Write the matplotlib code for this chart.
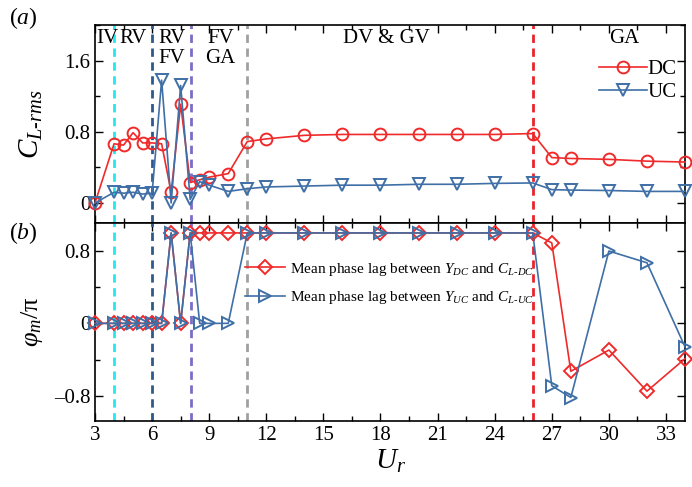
import numpy as np
import matplotlib.pyplot as plt
from matplotlib.ticker import MultipleLocator

plt.rcParams['font.family'] = ['Liberation Serif', 'DejaVu Serif']
plt.rcParams['mathtext.fontset'] = 'custom'
plt.rcParams['mathtext.rm'] = 'Liberation Serif'
plt.rcParams['mathtext.it'] = 'Liberation Serif:italic'
plt.rcParams['mathtext.bf'] = 'Liberation Serif:bold'

# --- data ---
ur = [3, 4, 4.5, 5, 5.5, 6, 6.5, 7, 7.5, 8, 8.5, 9, 10, 11, 12, 14, 16, 18,
      20, 22, 24, 26, 27, 28, 30, 32, 34]
dc_rms = [0.0, 0.665, 0.65, 0.79, 0.675, 0.675, 0.665, 0.12, 1.11, 0.23, 0.26,
          0.29, 0.33, 0.69, 0.72, 0.76, 0.77, 0.77, 0.77, 0.77, 0.77, 0.78,
          0.51, 0.50, 0.49, 0.47, 0.46]
uc_rms = [0.0, 0.12, 0.11, 0.12, 0.10, 0.11, 1.38, 0.0, 1.32, 0.04, 0.24,
          0.20, 0.13, 0.16, 0.18, 0.19, 0.20, 0.20, 0.21, 0.21, 0.22, 0.225,
          0.15, 0.145, 0.14, 0.13, 0.13]
dc_phase = [0, 0, 0, 0, 0, 0, 0, 1, 0, 1, 1, 1, 1, 1, 1, 1, 1, 1,
            1, 1, 1, 1, 0.89, -0.53, -0.295, -0.75, -0.39]
uc_phase = [0, 0, 0, 0, 0, 0, 0, 1, 0, 1, 0, 0, 0, 1, 1, 1, 1, 1,
            1, 1, 1, 1, -0.69, -0.82, 0.80, 0.67, -0.26]

regime_x = [4, 6, 8.05, 11, 26]
regime_c = ['#22E8F0', '#2C5A8C', '#7A6CC8', '#A0A0A0', '#E8242B']
regime_txt = [(3.05, 'IV', 'left'), (4.3, 'RV', 'left'), (7.05, 'RV\nFV', 'center'),
              (9.6, 'FV\nGA', 'center'), (18.3, 'DV & GV', 'center'), (30.8, 'GA', 'center')]

RED = '#F02A2A'
BLUE = '#3F6FA6'

fig = plt.figure(figsize=(6.92, 4.87), dpi=100)
ax1 = fig.add_axes([0.1373, 0.5421, 0.8526, 0.4066])
ax2 = fig.add_axes([0.1373, 0.1355, 0.8526, 0.4066])

kw = dict(lw=1.2, mfc='none', mew=1.4, clip_on=False, zorder=4)
ax1.plot(ur, dc_rms, marker='o', ms=8.5, color=RED, label='DC', **kw)
ax1.plot(ur, uc_rms, marker='v', ms=9, color=BLUE, label='UC', **kw)

ax2.plot(ur, dc_phase, marker='D', ms=7.5, color=RED,
         label=r'Mean phase lag between $Y_{DC}$ and $C_{L\text{-}DC}$', **kw)
ax2.plot(ur, uc_phase, marker='>', ms=9, color=BLUE,
         label=r'Mean phase lag between $Y_{UC}$ and $C_{L\text{-}UC}$', **kw)

for ax in (ax1, ax2):
    for x, c in zip(regime_x, regime_c):
        ax.axvline(x, color=c, lw=2, ls=(0, (3, 2)), zorder=2)
    ax.set_xlim(3, 34)
    ax.xaxis.set_major_locator(MultipleLocator(3))
    ax.xaxis.set_minor_locator(MultipleLocator(1.5))
    ax.yaxis.set_major_locator(MultipleLocator(0.8))
    ax.yaxis.set_minor_locator(MultipleLocator(0.4))
    ax.tick_params(which='both', direction='in', top=True, right=True,
                   labelsize=15, width=1)
    ax.tick_params(which='major', length=6)
    ax.tick_params(which='minor', length=3.5)
    for s in ax.spines.values():
        s.set_linewidth(1.2)

ax1.set_ylim(-0.225, 2.0)
ax1.tick_params(labelbottom=False)
ax1.set_yticks([0, 0.8, 1.6])
ax1.set_yticklabels(['0', '0.8', '1.6'])
ax2.set_ylim(-1.08, 1.11)
ax2.set_yticks([-0.8, 0, 0.8])
ax2.set_yticklabels(['\u20130.8', '0', '0.8'])

for x, t, ha in regime_txt:
    ax1.text(x, 1.95, t, ha=ha, va='top', fontsize=15, linespacing=1.05)

ax1.set_ylabel(r'$C_{L\text{-}rms}$', fontsize=21, labelpad=6)
ax2.set_ylabel(r'$\varphi_m$/π', fontsize=19, labelpad=4)
ax2.set_xlabel(r'$U_r$', fontsize=21, labelpad=2)
ax1.yaxis.set_label_coords(-0.085, 0.5)
ax2.yaxis.set_label_coords(-0.085, 0.5)

fig.text(0.013, 0.95, r'$(a)$', fontsize=17)
fig.text(0.013, 0.51, r'$(b)$', fontsize=17)

ax1.legend(loc='upper right', bbox_to_anchor=(0.986, 0.825), frameon=False,
           fontsize=15, handlelength=2.3, handletextpad=0.05, labelspacing=0.15,
           borderpad=0, borderaxespad=0)
ax2.legend(loc='upper left', bbox_to_anchor=(0.255, 0.81), frameon=False,
           fontsize=11, handlelength=2.6, handletextpad=0.3, labelspacing=0.75,
           borderpad=0, borderaxespad=0)

plt.savefig('out.png', dpi=100)
